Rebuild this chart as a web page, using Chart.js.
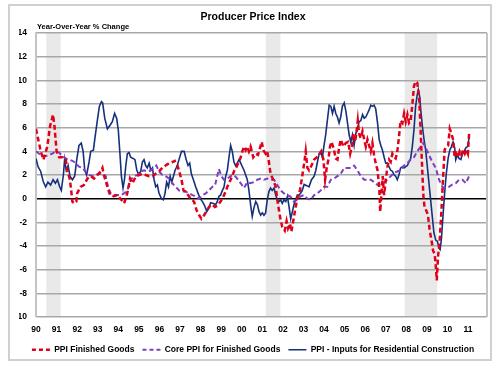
<!DOCTYPE html>
<html><head><meta charset="utf-8">
<script src="https://cdn.jsdelivr.net/npm/chart.js@4/dist/chart.umd.min.js"></script>
<style>html,body{margin:0;padding:0;background:#fff}#wrap{width:500px;height:365px}</style>
</head><body><div id="wrap"><canvas id="c" width="500" height="365"></canvas></div>
<script>
const FONT = '"Liberation Sans", Arial, Helvetica, sans-serif';
const titleText = 'Producer Price Index';
const subtitleText = 'Year-Over-Year % Change';
const seriesNames = ['PPI Finished Goods', 'Core PPI for Finished Goods', 'PPI - Inputs for Residential Construction'];
const yearTicks = [1990,1991,1992,1993,1994,1995,1996,1997,1998,1999,2000,2001,2002,2003,2004,2005,2006,2007,2008,2009,2010,2011];
const yearLabels = ['90','91','92','93','94','95','96','97','98','99','00','01','02','03','04','05','06','07','08','09','10','11'];
const recessions = [[1990.5,1991.2],[2001.17,2001.88],[2007.92,2009.5]];

// PPI Finished Goods (year fraction, % change)
const ppiX = [1990.0,1990.23,1990.36,1990.55,1990.68,1990.83,1990.9,1991.0,1991.12,1991.28,1991.45,1991.52,1991.65,1991.77,1991.85,1991.96,1992.0,1992.16,1992.33,1992.5,1992.66,1992.82,1992.98,1993.15,1993.23,1993.3,1993.47,1993.6,1993.79,1993.95,1994.15,1994.28,1994.36,1994.47,1994.57,1994.69,1994.85,1995.01,1995.17,1995.33,1995.5,1995.66,1995.82,1995.98,1996.14,1996.3,1996.47,1996.63,1996.74,1996.87,1996.95,1997.07,1997.17,1997.28,1997.39,1997.52,1997.68,1997.81,1997.93,1998.04,1998.17,1998.3,1998.41,1998.57,1998.7,1998.81,1998.97,1999.14,1999.3,1999.46,1999.62,1999.78,1999.95,2000.03,2000.11,2000.19,2000.27,2000.35,2000.43,2000.56,2000.68,2000.79,2000.89,2000.97,2001.05,2001.16,2001.24,2001.32,2001.4,2001.53,2001.65,2001.73,2001.81,2001.89,2001.97,2002.09,2002.18,2002.25,2002.35,2002.41,2002.51,2002.62,2002.73,2002.83,2002.94,2003.06,2003.11,2003.19,2003.27,2003.39,2003.52,2003.65,2003.76,2003.87,2003.97,2004.05,2004.13,2004.21,2004.29,2004.36,2004.46,2004.57,2004.65,2004.73,2004.81,2004.94,2005.06,2005.17,2005.27,2005.35,2005.43,2005.51,2005.59,2005.64,2005.7,2005.78,2005.87,2005.95,2006.03,2006.11,2006.19,2006.27,2006.35,2006.43,2006.51,2006.6,2006.68,2006.73,2006.79,2006.85,2006.92,2007.0,2007.08,2007.16,2007.24,2007.32,2007.41,2007.48,2007.56,2007.64,2007.72,2007.81,2007.89,2007.97,2008.05,2008.13,2008.21,2008.29,2008.37,2008.45,2008.53,2008.62,2008.7,2008.78,2008.83,2008.89,2008.97,2009.05,2009.13,2009.22,2009.3,2009.38,2009.43,2009.48,2009.54,2009.62,2009.7,2009.78,2009.86,2009.94,2010.03,2010.11,2010.19,2010.27,2010.35,2010.43,2010.51,2010.59,2010.67,2010.76,2010.84,2010.92,2010.99,2011.05];
const ppiY = [5.9,4.0,3.3,4.4,6.1,7.1,6.1,4.0,3.5,3.5,3.3,2.4,1.6,-0.25,-0.4,-0.25,0.45,1.0,1.15,1.7,1.9,1.7,2.0,2.3,2.6,2.0,1.0,0.3,0.2,0.3,-0.1,-0.4,0.0,0.7,1.7,1.3,1.9,2.0,2.1,2.0,1.9,1.9,2.1,2.3,2.6,2.8,3.0,3.1,3.2,2.8,2.4,1.6,0.7,0.6,0.3,0.0,-0.25,-1.0,-1.4,-1.7,-1.4,-1.0,-0.7,-0.5,-0.7,-0.6,-0.25,0.3,1.0,1.6,2.3,2.8,3.5,4.0,4.4,4.1,4.4,4.0,4.4,3.5,3.8,3.7,4.3,4.8,4.1,3.8,4.0,3.1,2.1,1.6,1.0,-0.1,-1.0,-1.8,-2.4,-2.7,-1.9,-2.5,-2.1,-2.8,-1.8,-0.7,0.2,0.7,1.9,3.3,4.0,2.6,2.4,2.8,3.3,3.5,3.7,4.0,3.3,1.6,2.6,3.3,4.4,4.8,4.3,3.4,3.3,4.3,5.0,4.4,4.7,4.8,3.8,4.4,5.5,4.8,5.8,6.6,5.5,5.1,5.7,5.0,4.4,5.0,4.5,4.0,4.7,3.7,3.0,2.4,1.0,-1.1,0.45,1.9,0.3,1.6,2.7,3.3,3.1,3.8,3.5,3.4,4.0,5.2,6.6,6.4,7.2,6.5,7.1,6.4,6.6,7.9,9.5,9.9,9.8,8.6,5.5,2.1,0.2,-0.8,-1.0,-1.4,-2.6,-3.5,-4.4,-4.7,-5.7,-6.9,-4.9,-3.5,-1.2,1.6,4.1,4.4,4.5,5.9,5.5,5.0,3.5,3.8,3.5,4.0,3.7,4.1,3.8,4.1,3.8,5.5];

// Core PPI for Finished Goods
const coreX = [1990.0,1990.15,1990.31,1990.47,1990.63,1990.79,1990.96,1991.12,1991.28,1991.44,1991.6,1991.77,1991.93,1992.09,1992.25,1992.41,1992.58,1992.74,1992.9,1993.06,1993.23,1993.39,1993.5,1993.63,1993.79,1993.95,1994.12,1994.28,1994.44,1994.6,1994.77,1994.93,1995.09,1995.25,1995.41,1995.58,1995.74,1995.85,1995.98,1996.14,1996.3,1996.47,1996.63,1996.79,1996.95,1997.12,1997.28,1997.44,1997.6,1997.77,1997.93,1998.09,1998.25,1998.41,1998.57,1998.7,1998.78,1998.89,1999.01,1999.14,1999.3,1999.46,1999.62,1999.78,1999.95,2000.11,2000.27,2000.43,2000.59,2000.76,2000.92,2001.08,2001.24,2001.4,2001.57,2001.73,2001.89,2002.05,2002.22,2002.38,2002.54,2002.7,2002.86,2003.03,2003.19,2003.35,2003.52,2003.68,2003.84,2003.99,2004.16,2004.33,2004.49,2004.65,2004.81,2004.98,2005.14,2005.3,2005.46,2005.62,2005.79,2005.95,2006.11,2006.27,2006.43,2006.6,2006.76,2006.92,2007.08,2007.24,2007.41,2007.56,2007.72,2007.89,2008.05,2008.21,2008.37,2008.53,2008.7,2008.83,2008.94,2009.1,2009.26,2009.43,2009.59,2009.75,2009.91,2010.07,2010.24,2010.4,2010.56,2010.73,2010.89,2011.05];
const coreY = [4.0,3.8,3.6,3.6,3.7,3.8,4.0,3.9,3.6,3.4,3.3,3.2,3.0,2.7,2.6,2.3,2.0,1.9,2.0,2.1,2.1,1.9,1.0,0.45,0.3,0.3,0.3,0.45,0.7,1.6,1.9,2.0,2.3,2.4,2.3,2.4,2.6,2.8,2.3,2.0,1.9,1.7,1.3,1.0,0.7,0.6,0.6,0.45,0.3,0.2,0.0,0.3,0.45,0.7,1.0,1.1,1.7,2.5,1.9,1.6,1.7,1.9,2.0,1.7,1.3,0.9,1.4,1.3,1.4,1.6,1.7,1.6,1.7,1.6,1.6,1.15,0.7,0.45,0.3,0.15,-0.25,-0.1,0.2,0.3,0.0,-0.1,0.3,0.45,0.7,1.0,1.0,1.6,1.7,1.9,2.1,2.6,2.6,2.6,2.8,2.4,1.9,1.6,1.6,1.6,1.4,1.15,1.3,1.4,1.6,1.9,2.2,2.3,2.4,2.8,3.0,3.3,3.5,4.0,4.4,4.7,4.3,3.7,3.1,2.6,1.6,1.0,0.9,1.0,1.2,1.3,1.6,1.6,1.3,1.9];

// PPI - Inputs for Residential Construction
const resX = [1990.0,1990.1,1990.23,1990.36,1990.47,1990.58,1990.71,1990.83,1990.94,1991.04,1991.15,1991.23,1991.33,1991.39,1991.47,1991.56,1991.65,1991.77,1991.88,1991.98,1992.09,1992.2,1992.29,1992.37,1992.46,1992.58,1992.66,1992.79,1992.87,1992.98,1993.08,1993.18,1993.24,1993.34,1993.47,1993.6,1993.71,1993.82,1993.92,1994.0,1994.08,1994.15,1994.23,1994.3,1994.36,1994.44,1994.52,1994.6,1994.72,1994.81,1994.9,1994.98,1995.09,1995.17,1995.25,1995.33,1995.41,1995.5,1995.58,1995.66,1995.74,1995.82,1995.9,1995.98,1996.1,1996.19,1996.27,1996.35,1996.44,1996.52,1996.6,1996.68,1996.76,1996.87,1996.95,1997.07,1997.2,1997.3,1997.39,1997.47,1997.55,1997.65,1997.76,1997.88,1997.98,1998.09,1998.2,1998.3,1998.4,1998.49,1998.62,1998.73,1998.81,1998.89,1998.97,1999.06,1999.14,1999.22,1999.3,1999.38,1999.46,1999.54,1999.62,1999.7,1999.78,1999.87,1999.95,2000.03,2000.11,2000.19,2000.27,2000.35,2000.43,2000.51,2000.59,2000.68,2000.76,2000.84,2000.92,2001.0,2001.08,2001.16,2001.24,2001.32,2001.4,2001.48,2001.57,2001.65,2001.73,2001.81,2001.89,2001.97,2002.05,2002.14,2002.22,2002.3,2002.38,2002.46,2002.54,2002.62,2002.7,2002.78,2002.86,2002.94,2003.03,2003.16,2003.27,2003.39,2003.52,2003.6,2003.68,2003.76,2003.84,2003.92,2003.99,2004.08,2004.16,2004.25,2004.33,2004.41,2004.49,2004.57,2004.65,2004.73,2004.81,2004.89,2004.98,2005.06,2005.14,2005.22,2005.3,2005.38,2005.46,2005.54,2005.62,2005.7,2005.79,2005.87,2005.95,2006.03,2006.11,2006.19,2006.27,2006.35,2006.43,2006.51,2006.6,2006.68,2006.76,2006.84,2006.92,2007.0,2007.08,2007.16,2007.24,2007.33,2007.41,2007.48,2007.56,2007.64,2007.72,2007.81,2007.89,2007.97,2008.05,2008.13,2008.21,2008.29,2008.37,2008.45,2008.53,2008.58,2008.65,2008.7,2008.78,2008.86,2008.94,2009.02,2009.1,2009.18,2009.26,2009.34,2009.43,2009.51,2009.59,2009.64,2009.7,2009.78,2009.86,2009.94,2010.03,2010.11,2010.19,2010.27,2010.35,2010.4,2010.48,2010.56,2010.65,2010.73,2010.81,2010.89,2010.97,2011.05];
const resY = [3.4,2.7,2.3,1.4,1.0,1.4,1.15,1.6,1.3,1.6,1.0,0.7,2.0,3.3,2.4,2.8,1.9,1.6,1.9,3.3,4.5,4.7,4.0,2.4,2.0,3.1,4.0,4.1,5.2,6.6,7.8,8.2,8.1,6.8,5.9,6.2,6.5,7.2,6.8,5.8,3.8,1.9,0.9,1.6,2.7,3.8,3.9,3.5,3.4,3.3,2.4,2.1,2.3,3.1,3.3,2.8,2.6,3.0,2.4,2.6,1.6,1.0,1.15,0.45,0.0,-0.1,0.45,1.4,1.0,1.9,1.4,1.9,2.4,2.8,3.3,4.0,4.0,3.3,2.8,3.0,2.1,1.6,1.0,0.45,0.0,-0.25,-0.6,-1.1,-0.8,-0.35,-0.4,-0.5,-0.25,0.2,0.3,0.7,1.0,1.9,2.4,3.5,4.5,4.0,3.1,2.8,3.0,3.3,3.0,2.7,2.4,2.0,1.6,0.7,-0.5,-1.5,-0.8,-0.25,-0.5,-1.1,-1.4,-1.2,-1.4,-1.2,-0.1,0.6,0.9,0.7,0.9,0.3,-0.1,-0.25,-0.1,-0.4,-0.1,-0.25,0.2,-0.7,-1.7,-1.1,-0.5,-0.1,0.3,0.3,0.45,0.7,1.2,1.1,1.0,1.6,1.9,2.4,3.1,3.8,4.0,3.5,4.4,5.4,6.6,7.9,7.8,7.2,7.8,7.2,6.9,6.4,6.9,7.8,8.1,7.4,6.4,5.4,4.8,5.4,4.5,5.5,5.8,6.5,6.6,7.1,6.8,6.9,7.2,7.5,7.9,7.8,7.9,7.6,6.4,5.0,4.5,4.1,3.5,3.0,3.0,2.7,2.4,2.3,2.0,1.9,1.6,2.0,2.6,2.7,2.6,2.7,2.8,3.1,3.4,4.4,5.8,7.8,8.8,9.2,8.6,7.5,6.1,5.0,4.1,2.7,1.3,-0.1,-1.5,-2.9,-3.5,-3.6,-4.2,-4.3,-3.5,-1.5,0.45,2.1,3.4,4.1,4.4,4.8,4.3,3.3,3.7,3.4,3.3,3.8,4.0,4.3,4.4,5.1];

const toPts = (xs, ys) => xs.map((x, i) => ({x: x, y: ys[i]}));

const framePlugin = {
  id: 'frame',
  beforeDraw(chart) {
    const {ctx, chartArea: a, scales: {x}} = chart;
    ctx.save();
    ctx.fillStyle = '#fff';
    ctx.fillRect(0, 0, chart.width, chart.height);
    ctx.strokeStyle = '#d0d0d0';
    ctx.lineWidth = 2;
    ctx.strokeRect(9, 5, 482, 355);
    ctx.fillStyle = '#e9e9e9';
    recessions.forEach(([s, e]) => {
      const x0 = x.getPixelForValue(s), x1 = x.getPixelForValue(e);
      ctx.fillRect(x0, a.top, x1 - x0, a.bottom - a.top);
    });
    ctx.restore();
  },
  afterDraw(chart) {
    const {ctx, chartArea: a} = chart;
    ctx.save();
    ctx.strokeStyle = '#c4c4c4';
    ctx.lineWidth = 2;
    ctx.beginPath();
    ctx.moveTo(a.right, a.top);
    ctx.lineTo(a.right, a.bottom);
    ctx.stroke();
    ctx.fillStyle = '#000';
    ctx.font = 'bold 7.5px ' + FONT;
    ctx.textBaseline = 'middle';
    ctx.textAlign = 'left';
    ctx.fillText(subtitleText, 37, 27);
    ctx.restore();
  }
};

new Chart(document.getElementById('c'), {
  type: 'line',
  data: {
    datasets: [
      {label: seriesNames[0], data: toPts(ppiX, ppiY), borderColor: '#e0001a', backgroundColor: '#e0001a', borderWidth: 2.5, borderDash: [5, 3]},
      {label: seriesNames[1], data: toPts(coreX, coreY), borderColor: '#7d3fc4', backgroundColor: '#7d3fc4', borderWidth: 2, borderDash: [5, 3]},
      {label: seriesNames[2], data: toPts(resX, resY), borderColor: '#16307c', backgroundColor: '#16307c', borderWidth: 1.6}
    ]
  },
  options: {
    responsive: false,
    animation: false,
    devicePixelRatio: 1,
    layout: {padding: {left: 19, right: 13, top: 0, bottom: 1}},
    elements: {point: {radius: 0}, line: {tension: 0}},
    plugins: {
      title: {display: true, text: titleText, color: '#000', font: {family: FONT, size: 10.5, weight: 'bold'}, padding: {top: 11, bottom: 9.4}},
      legend: {
        position: 'bottom',
        labels: {
          usePointStyle: true, pointStyle: 'line', pointStyleWidth: 18, boxHeight: 8.5, padding: 8, color: '#000',
          font: {family: FONT, size: 8.5, weight: 'bold'},
          generateLabels: (chart) => chart.data.datasets.map((ds, i) => ({
            text: ds.label, datasetIndex: i, hidden: false, fontColor: '#000',
            strokeStyle: ds.borderColor, fillStyle: ds.borderColor,
            lineWidth: ds.borderWidth, lineDash: ds.borderDash ? [4, 3] : [], lineCap: 'butt', pointStyle: 'line'
          }))
        }
      },
      tooltip: {enabled: false}
    },
    scales: {
      x: {
        type: 'linear', min: 1990, max: 2011.92,
        afterBuildTicks(scale) { scale.ticks = yearTicks.map(v => ({value: v})); },
        afterFit(scale) { scale.height = 20.5; },
        grid: {display: false, drawTicks: false},
        border: {display: false},
        ticks: {autoSkip: false, maxRotation: 0, padding: 8, color: '#000', font: {family: FONT, size: 8.5, weight: 'bold'},
          callback: (v) => yearLabels[yearTicks.indexOf(v)]}
      },
      y: {
        min: -10, max: 14,
        afterFit(scale) { scale.width = 17; },
        grid: {drawTicks: false, lineWidth: 1.5, color: (c) => (c.tick && c.tick.value === 0) ? '#000' : '#a8a8a8'},
        border: {display: true, color: '#c4c4c4', width: 2},
        ticks: {stepSize: 2, padding: 9, color: '#000', font: {family: FONT, size: 8.5, weight: 'bold'}}
      }
    }
  },
  plugins: [framePlugin]
});
</script>
</body></html>
